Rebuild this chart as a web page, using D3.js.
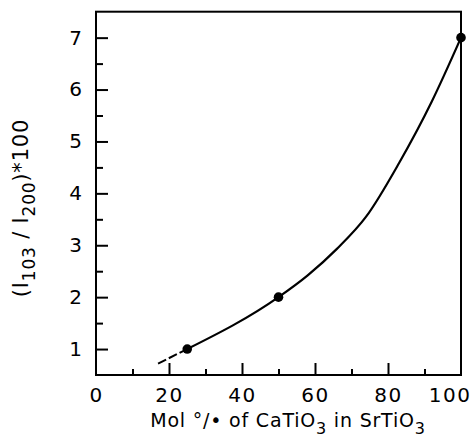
<!DOCTYPE html>
<html>
<head>
<meta charset="utf-8">
<script src="https://cdn.jsdelivr.net/npm/d3@7"></script>
<style>
  body { margin: 0; background: #fff; }
  text { font-family: "DejaVu Sans", sans-serif; fill: #000; }
</style>
</head>
<body>
<div id="chart"></div>
<script>
var width = 470;
var height = 441;

// measured points (mol % CaTiO3, intensity ratio * 100)
var pointX = [25, 50, 100];
var pointY = [1, 2, 7];

// fitted curve
var curveX = [25, 50, 58, 66, 74, 83, 92, 100];
var curveY = [1.0, 2.0, 2.42, 2.93, 3.55, 4.58, 5.77, 7.0];

// dashed extrapolation
var dashX = [17, 25];
var dashY = [0.72, 1.0];

var xMajor = [0, 20, 40, 60, 80, 100];
var xMinor = [10, 30, 50, 70, 90];
var yMajor = [1, 2, 3, 4, 5, 6, 7];
var yMinor = [1.5, 2.5, 3.5, 4.5, 5.5, 6.5];

var x = d3.scaleLinear().domain([0, 100]).range([96, 461]);
var y = d3.scaleLinear().domain([0.5, 7.5]).range([375, 11.7]);

var svg = d3.select("#chart")
    .append("svg")
    .attr("width", width)
    .attr("height", height);

// inward ticks
svg.append("g")
    .attr("transform", "translate(0," + y(0.5) + ")")
    .call(d3.axisBottom(x).tickValues(xMajor.slice(1, 5)).tickSize(-12).tickFormat(""))
    .call(function(g){ g.select(".domain").remove(); });
svg.append("g")
    .attr("transform", "translate(0," + y(0.5) + ")")
    .call(d3.axisBottom(x).tickValues(xMinor).tickSize(-6).tickFormat(""))
    .call(function(g){ g.select(".domain").remove(); });
svg.append("g")
    .attr("transform", "translate(" + x(0) + ",0)")
    .call(d3.axisLeft(y).tickValues(yMajor).tickSize(-12).tickFormat(""))
    .call(function(g){ g.select(".domain").remove(); });
svg.append("g")
    .attr("transform", "translate(" + x(0) + ",0)")
    .call(d3.axisLeft(y).tickValues(yMinor).tickSize(-7).tickFormat(""))
    .call(function(g){ g.select(".domain").remove(); });

svg.selectAll(".tick line").attr("stroke", "#000").attr("stroke-width", 2);

// tick labels
var xLab = svg.append("g")
    .attr("transform", "translate(0," + y(0.5) + ")")
    .call(d3.axisBottom(x).tickValues(xMajor).tickSize(0).tickPadding(13).tickFormat(d3.format("d")))
    .call(function(g){ g.select(".domain").remove(); });
xLab.selectAll("text")
    .attr("font-size", 20)
    .attr("font-family", "DejaVu Sans")
    .attr("letter-spacing", 1.5)
    .attr("text-anchor", function(d){ return d === 100 ? "end" : "middle"; })
    .attr("dx", function(d){ return d === 100 ? 10 : 0; });

var yLab = svg.append("g")
    .attr("transform", "translate(" + x(0) + ",0)")
    .call(d3.axisLeft(y).tickValues(yMajor).tickSize(0).tickPadding(14).tickFormat(d3.format("d")))
    .call(function(g){ g.select(".domain").remove(); });
yLab.selectAll("text")
    .attr("font-size", 20)
    .attr("font-family", "DejaVu Sans");

// frame
svg.append("rect")
    .attr("x", x(0))
    .attr("y", y(7.5))
    .attr("width", x(100) - x(0))
    .attr("height", y(0.5) - y(7.5))
    .attr("fill", "none")
    .attr("stroke", "#000")
    .attr("stroke-width", 2);

// curve
var line = d3.line()
    .x(function(d){ return x(d[0]); })
    .y(function(d){ return y(d[1]); })
    .curve(d3.curveMonotoneX);

svg.append("path")
    .datum(d3.zip(curveX, curveY))
    .attr("d", line)
    .attr("fill", "none")
    .attr("stroke", "#000")
    .attr("stroke-width", 2.2);

svg.append("path")
    .datum(d3.zip(dashX, dashY))
    .attr("d", d3.line().x(function(d){ return x(d[0]); }).y(function(d){ return y(d[1]); }))
    .attr("fill", "none")
    .attr("stroke", "#000")
    .attr("stroke-width", 2)
    .attr("stroke-dasharray", "9,3");

svg.selectAll("circle")
    .data(d3.zip(pointX, pointY))
    .enter()
        .append("circle")
        .attr("cx", function(d){ return x(d[0]); })
        .attr("cy", function(d){ return y(d[1]); })
        .attr("r", 4.8)
        .attr("fill", "#000");

// x title
var xt = svg.append("text")
    .attr("x", 288)
    .attr("y", 427)
    .attr("text-anchor", "middle")
    .attr("font-size", 19)
    .attr("letter-spacing", 0.8);
xt.append("tspan").text("Mol °/• of CaTiO");
xt.append("tspan").attr("dy", 7).attr("font-size", 16).text("3");
xt.append("tspan").attr("dy", -7).text(" in SrTiO");
xt.append("tspan").attr("dy", 7).attr("font-size", 16).text("3");

// y title
var yt = svg.append("text")
    .attr("transform", "translate(28,208) rotate(-90)")
    .attr("text-anchor", "middle")
    .attr("font-size", 21)
    .attr("letter-spacing", 0.8);
yt.append("tspan").text("(I");
yt.append("tspan").attr("dy", 7).attr("font-size", 17).text("103");
yt.append("tspan").attr("dy", -7).text(" / I");
yt.append("tspan").attr("dy", 7).attr("font-size", 17).text("200");
yt.append("tspan").attr("dy", -7).text(")*100");
</script>
</body>
</html>
